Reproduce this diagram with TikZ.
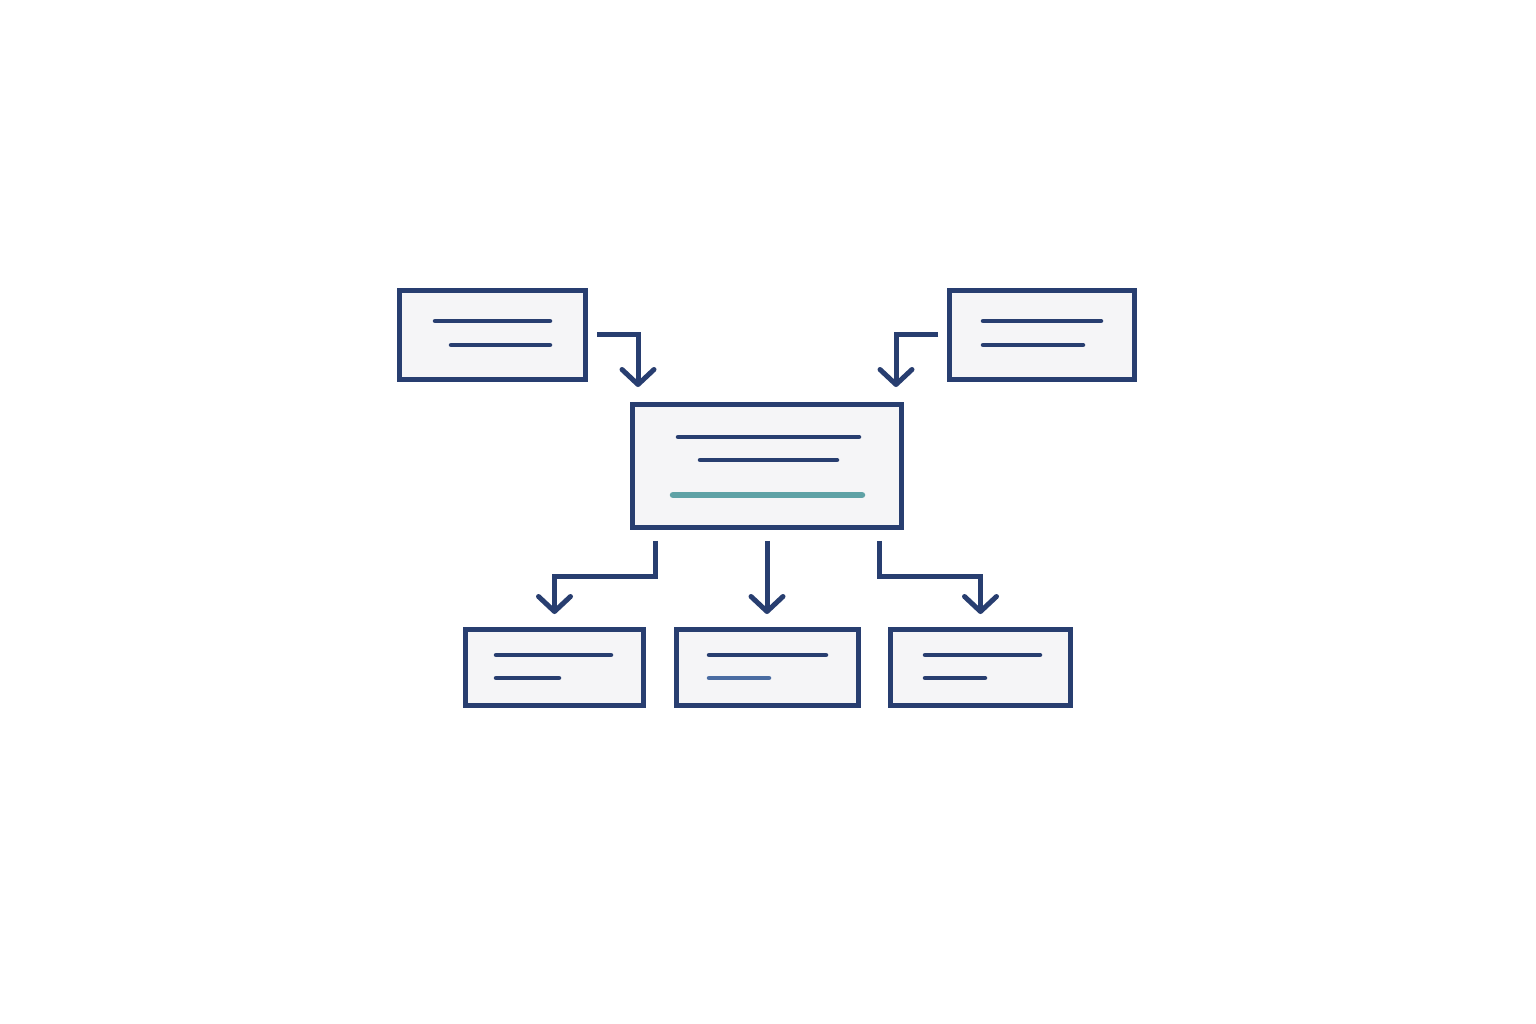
\documentclass[tikz,border=0pt]{standalone}
\usetikzlibrary{arrows.meta}
\definecolor{navy}{RGB}{40,62,112}
\definecolor{paper}{RGB}{245,245,247}
\definecolor{tealbar}{RGB}{95,162,166}
\definecolor{steel}{RGB}{74,108,162}
\begin{document}
\begin{tikzpicture}[x=0.1mm, y=-0.1mm,
	card/.style={draw=navy, fill=paper, line width=0.5mm, inner sep=0pt},
	bar/.style={navy, line width=0.45mm, line cap=round},
	link/.style={navy, line width=0.5mm, -{Straight Barb[length=1.5mm, width=3.2mm, round]}}]

		\fill[white] (0,0) rectangle (1536,1024);
		\useasboundingbox (0,0) rectangle (1536,1024);

		% sources
		\node (tl) at (492.5,335) [card, minimum width=18.6mm, minimum height=8.9mm] {};
		\node (tr) at (1042,335) [card, minimum width=18.5mm, minimum height=8.9mm] {};
		% hub
		\node (mid) at (767,466) [card, minimum width=26.9mm, minimum height=12.3mm] {};
		% targets
		\node (bl) at (554.5,667.5) [card, minimum width=17.8mm, minimum height=7.6mm] {};
		\node (bm) at (767,667.5) [card, minimum width=18.2mm, minimum height=7.6mm] {};
		\node (br) at (980.5,667.5) [card, minimum width=18mm, minimum height=7.6mm] {};

		\draw[bar] (435,321) -- (550,321);
		\draw[bar] (451,345) -- (550,345);
		\draw[bar] (983,321) -- (1101,321);
		\draw[bar] (983,345) -- (1083,345);
		\draw[bar] (678,437) -- (859,437);
		\draw[bar] (700,460) -- (837,460);
		\draw[bar, tealbar, line width=0.65mm] (673,495) -- (862,495);
		\draw[bar] (496,655) -- (611,655);
		\draw[bar] (496,678) -- (559,678);
		\draw[bar] (709,655) -- (826,655);
		\draw[bar, steel] (709,678) -- (769,678);
		\draw[bar] (925,655) -- (1040,655);
		\draw[bar] (925,678) -- (985,678);

		\draw[link] ([xshift=0.9mm]tl.east) -| ([xshift=0.8mm, yshift=1.5mm]mid.north west);
		\draw[link] ([xshift=-0.9mm]tr.west) -| ([xshift=-0.8mm, yshift=1.5mm]mid.north east);
		\draw[link] ([xshift=2.5mm, yshift=-1.1mm]mid.south west) -- ++(0,36) -| ([yshift=1.3mm]bl.north);
		\draw[link] ([yshift=-1.1mm]mid.south) -- ([yshift=1.3mm]bm.north);
		\draw[link] ([xshift=-2.5mm, yshift=-1.1mm]mid.south east) -- ++(0,36) -| ([yshift=1.3mm]br.north);
	\end{tikzpicture}
\end{document}
